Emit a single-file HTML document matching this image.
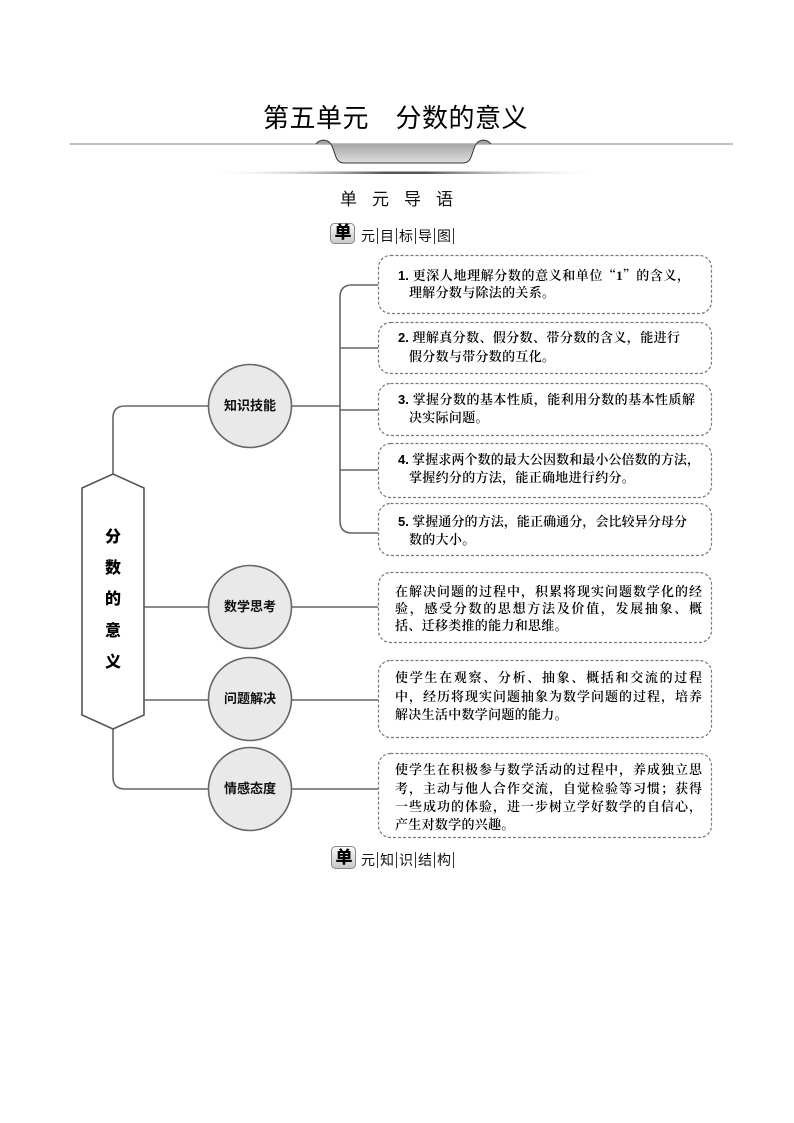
<!DOCTYPE html>
<html><head><meta charset="utf-8">
<style>
html,body{margin:0;padding:0;background:#fff;}
#pg{position:relative;width:794px;height:1123px;overflow:hidden;background:#fff;}
svg{position:absolute;left:0;top:0;}
.t{position:absolute;white-space:nowrap;line-height:18px;color:#000;}
.s{font-family:"Liberation Serif","Noto Serif CJK SC",serif;font-size:13px;font-weight:600;}
.j{text-align:justify;text-align-last:justify;}
.n{font-family:"Liberation Sans","Noto Sans CJK SC",sans-serif;font-weight:bold;}
.q{font-family:"Noto Serif CJK SC",serif;}
.h{font-family:"Liberation Sans","Noto Sans CJK SC",sans-serif;}
.c{position:absolute;font-family:"Liberation Sans","Noto Sans CJK SC",sans-serif;font-weight:bold;font-size:13px;width:84px;text-align:center;line-height:18px;color:#111;}
.hx{position:absolute;left:96px;width:34px;text-align:center;font-family:"Liberation Sans","Noto Sans CJK SC",sans-serif;font-weight:900;font-size:16px;line-height:20px;color:#000;}
.bar span{display:inline-block;border-right:1px solid #333;padding:0 2px 0 1px;margin-right:1px;line-height:16px;}
</style></head><body><div id="pg">
<svg width="794" height="1123" viewBox="0 0 794 1123">
<defs>
<linearGradient id="rg" x1="0" y1="0" x2="0" y2="1">
<stop offset="0" stop-color="#9c9c9c"/><stop offset="0.6" stop-color="#c4c4c4"/><stop offset="1" stop-color="#dedede"/>
</linearGradient>
<linearGradient id="sh" x1="0" y1="0" x2="1" y2="0">
<stop offset="0" stop-color="#fff" stop-opacity="0"/><stop offset="0.45" stop-color="#555"/><stop offset="0.55" stop-color="#555"/><stop offset="1" stop-color="#fff" stop-opacity="0"/>
</linearGradient>
<linearGradient id="bg" x1="0" y1="0" x2="0" y2="1">
<stop offset="0" stop-color="#fafafa"/><stop offset="1" stop-color="#c8c8c8"/>
</linearGradient>
</defs>
<line x1="70" y1="144" x2="733" y2="144" stroke="#aaa" stroke-width="1.5"/>
<path d="M316,144 C320,139 328,138 332,146 C336,156 336,163 344,163 L463,163 C471,163 471,156 475,146 C479,138 487,139 491,144 L316,144 Z" fill="url(#rg)" stroke="none"/>
<path d="M316,144 C320,139 328,138 332,146 C336,156 336,163 344,163 L463,163 C471,163 471,156 475,146 C479,138 487,139 491,144" fill="none" stroke="#333" stroke-width="1"/>
<rect x="205" y="171.5" width="400" height="2.5" fill="url(#sh)"/>
<rect x="330.5" y="223.5" width="24" height="20" rx="4" fill="url(#bg)" stroke="#888" stroke-width="1"/>
<rect x="331.5" y="846.5" width="24" height="22" rx="4" fill="url(#bg)" stroke="#888" stroke-width="1"/>
<g fill="none" stroke="#666" stroke-width="1.6">
<path d="M113,474 V418 Q113,406 125,406 H208"/>
<path d="M378,285 H352 Q340,285 340,297 V521 Q340,533 352,533 H378"/>
<path d="M340,348 H378 M340,410 H378 M340,470 H378 M292,406 H340"/>
<path d="M144,607 H208 M292,607 H378"/>
<path d="M144,700 H208 M292,700 H378"/>
<path d="M113,729 V777 Q113,789 125,789 H208 M292,789 H378"/>
</g>
<polygon points="82,488 113,474 144,488 144,715 113,729 82,715" fill="#fff" stroke="#555" stroke-width="1.6"/>
<g fill="#e9e9e9" stroke="#666" stroke-width="1.6">
<circle cx="250" cy="406" r="41.5"/>
<circle cx="250" cy="607" r="41.5"/>
<circle cx="250" cy="699" r="41.5"/>
<circle cx="250" cy="789" r="41.5"/>
</g>
<g fill="#fff" stroke="#777" stroke-width="1.2" stroke-dasharray="3 2">
<rect x="378.5" y="255.5" width="333" height="58" rx="12"/>
<rect x="378.5" y="322.5" width="333" height="51" rx="12"/>
<rect x="378.5" y="383.5" width="333" height="52" rx="12"/>
<rect x="378.5" y="443.5" width="333" height="54" rx="12"/>
<rect x="378.5" y="503.5" width="333" height="52" rx="12"/>
<rect x="378.5" y="572.5" width="333" height="70" rx="12"/>
<rect x="378.5" y="660.5" width="333" height="77" rx="12"/>
<rect x="378.5" y="753.5" width="333" height="84" rx="12"/>
</g>
</svg>

<div class="t h" style="left:263px;top:101px;font-size:26px;line-height:34px;letter-spacing:0.5px;color:#000;">第五单元　分数的意义</div>
<div class="t h" style="left:340px;top:189px;font-size:17px;line-height:22px;letter-spacing:15px;color:#111;">单元导语</div>
<div class="t h" style="left:331px;top:223px;width:24px;text-align:center;font-size:17px;line-height:20px;font-weight:900;color:#000;">单</div>
<div class="t h bar" style="left:360px;top:227px;font-size:14px;line-height:18px;color:#111;"><span>元</span><span>目</span><span>标</span><span>导</span><span>图</span></div>
<div class="t h" style="left:332px;top:847px;width:24px;text-align:center;font-size:17px;line-height:22px;font-weight:900;color:#000;">单</div>
<div class="t h bar" style="left:360px;top:851px;font-size:14px;line-height:18px;color:#111;"><span>元</span><span>知</span><span>识</span><span>结</span><span>构</span></div>

<div class="hx" style="top:528px;">分</div>
<div class="hx" style="top:559px;">数</div>
<div class="hx" style="top:590px;">的</div>
<div class="hx" style="top:622px;">意</div>
<div class="hx" style="top:653px;">义</div>

<div class="c" style="left:208px;top:397px;">知识技能</div>
<div class="c" style="left:208px;top:598px;">数学思考</div>
<div class="c" style="left:208px;top:690px;">问题解决</div>
<div class="c" style="left:208px;top:780px;">情感态度</div>

<div class="t s j" style="left:398px;top:266px;width:292px;"><span class="n">1.</span> 更深人地理解分数的意义和单位<span class="q">“</span>1<span class="q">”</span>的含义，</div>
<div class="t s" style="left:409px;top:284px;letter-spacing:0.3px;">理解分数与除法的关系。</div>

<div class="t s j" style="left:398px;top:329px;width:282px;"><span class="n">2.</span> 理解真分数、假分数、带分数的含义，能进行</div>
<div class="t s" style="left:409px;top:348px;letter-spacing:0.3px;">假分数与带分数的互化。</div>

<div class="t s j" style="left:398px;top:391px;width:297px;"><span class="n">3.</span> 掌握分数的基本性质，能利用分数的基本性质解</div>
<div class="t s" style="left:409px;top:409px;letter-spacing:0.3px;">决实际问题。</div>

<div class="t s j" style="left:398px;top:451px;width:302px;"><span class="n">4.</span> 掌握求两个数的最大公因数和最小公倍数的方法，</div>
<div class="t s" style="left:409px;top:469px;letter-spacing:0.3px;">掌握约分的方法，能正确地进行约分。</div>

<div class="t s j" style="left:398px;top:513px;width:289px;"><span class="n">5.</span> 掌握通分的方法，能正确通分，会比较异分母分</div>
<div class="t s" style="left:409px;top:531px;letter-spacing:0.3px;">数的大小。</div>

<div class="t s j" style="left:395px;top:583px;width:307px;">在解决问题的过程中，积累将现实问题数学化的经</div>
<div class="t s j" style="left:395px;top:600px;width:307px;">验，感受分数的思想方法及价值，发展抽象、概</div>
<div class="t s" style="left:395px;top:617px;letter-spacing:0.3px;">括、迁移类推的能力和思维。</div>

<div class="t s j" style="left:395px;top:669px;width:307px;">使学生在观察、分析、抽象、概括和交流的过程</div>
<div class="t s j" style="left:395px;top:688px;width:307px;">中，经历将现实问题抽象为数学问题的过程，培养</div>
<div class="t s" style="left:395px;top:706px;letter-spacing:0.3px;">解决生活中数学问题的能力。</div>

<div class="t s j" style="left:395px;top:761px;width:307px;">使学生在积极参与数学活动的过程中，养成独立思</div>
<div class="t s j" style="left:395px;top:780px;width:307px;">考，主动与他人合作交流，自觉检验等习惯；获得</div>
<div class="t s j" style="left:395px;top:798px;width:307px;">一些成功的体验，进一步树立学好数学的自信心，</div>
<div class="t s" style="left:395px;top:816px;letter-spacing:0.3px;">产生对数学的兴趣。</div>
</div></body></html>
